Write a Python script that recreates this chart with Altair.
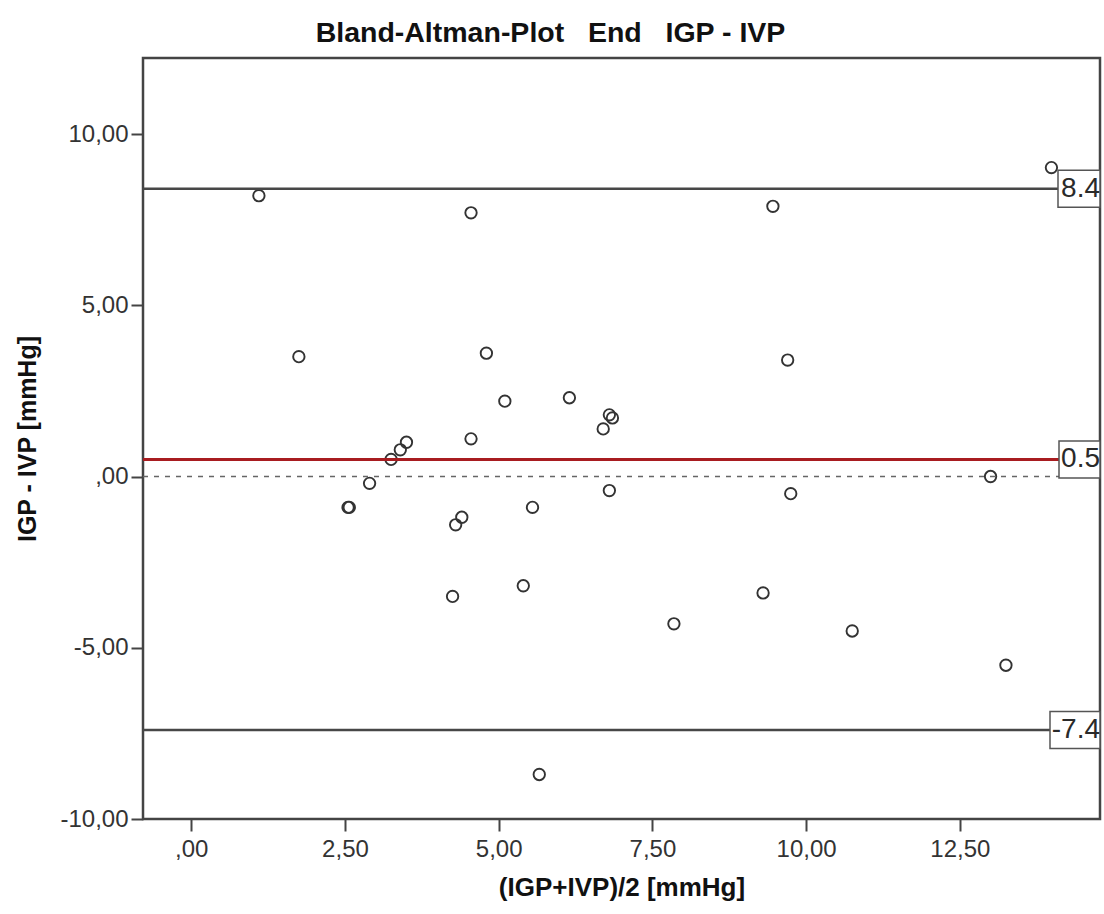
import altair as alt
import pandas as pd

# ---- data ----
mean_x = [1.10, 4.55, 9.46, 13.99, 1.75, 4.80, 5.10, 4.55, 3.25, 3.40, 3.50, 2.90,
          2.55, 2.57, 4.30, 4.40, 5.55, 4.25, 5.40, 6.15, 6.80, 6.85, 6.70, 9.70,
          6.80, 9.75, 9.30, 7.85, 10.75, 5.66, 13.00, 13.25]
diff_y = [8.20, 7.70, 7.89, 9.02, 3.50, 3.60, 2.20, 1.10, 0.50, 0.78, 1.00, -0.20,
          -0.90, -0.90, -1.41, -1.19, -0.90, -3.50, -3.19, 2.30, 1.80, 1.71, 1.39, 3.40,
          -0.41, -0.50, -3.40, -4.30, -4.51, -8.70, 0.00, -5.51]

limit_values = [8.4, -7.4]
limit_labels = ["8.4", "-7.4"]
mean_value = [0.5]
mean_label = ["0.5"]

x_ticks = [0, 2.5, 5, 7.5, 10, 12.5]
y_ticks = [-10, -5, 0, 5, 10]

XMIN, XMAX = -0.785, 14.78
YMIN, YMAX = -10.0, 12.22

FONT = "Liberation Sans"
XT = "(IGP+IVP)/2 [mmHg]"
YT = "IGP - IVP [mmHg]"

pts = pd.DataFrame({"mx": mean_x, "dy": diff_y})
lim = pd.DataFrame({"value": limit_values, "label": limit_labels})
mn = pd.DataFrame({"value": mean_value, "label": mean_label})

label_expr = ("datum.value == 0 ? ',00' : (datum.value < 0 ? '-' : '') + "
              "replace(format(abs(datum.value), '.2f'), '.', ',')")

xscale = alt.Scale(domain=[XMIN, XMAX], nice=False, zero=False)
yscale = alt.Scale(domain=[YMIN, YMAX], nice=False, zero=False)

xaxis = alt.Axis(values=x_ticks, labelExpr=label_expr, grid=False, domain=False,
                 tickSize=12, tickWidth=2, tickColor="#444", labelPadding=6,
                 labelFontSize=24, labelFont=FONT, labelColor="#333",
                 titleFont=FONT, titleFontSize=26, titleFontWeight="bold",
                 titleColor="#111", titlePadding=13)
yaxis = alt.Axis(values=y_ticks, labelExpr=label_expr, grid=False, domain=False,
                 tickSize=12, tickWidth=2, tickColor="#444", labelPadding=3,
                 labelFontSize=24, labelFont=FONT, labelColor="#333",
                 titleFont=FONT, titleFontSize=25, titleFontWeight="bold",
                 titleColor="#111", titlePadding=19)

points = alt.Chart(pts).mark_point(shape="circle", filled=False, size=130,
                                   stroke="#333", strokeWidth=1.9, opacity=1).encode(
    x=alt.X("mx:Q", title=XT, scale=xscale, axis=xaxis),
    y=alt.Y("dy:Q", title=YT, scale=yscale, axis=yaxis),
)

zero_line = alt.Chart(mn).mark_rule(color="#666", strokeWidth=1.5, strokeDash=[5, 6]).encode(
    x=alt.datum(XMIN), x2=alt.datum(XMAX),
    y=alt.datum(0),
)

gray_lines = alt.Chart(lim).mark_rule(color="#474747", strokeWidth=2.5).encode(
    x=alt.datum(XMIN), x2=alt.datum(XMAX),
    y=alt.Y("value:Q", title=YT, scale=yscale, axis=yaxis),
)
red_line = alt.Chart(mn).mark_rule(color="#a81c20", strokeWidth=3).encode(
    x=alt.datum(XMIN), x2=alt.datum(XMAX),
    y=alt.Y("value:Q", title=YT, scale=yscale, axis=yaxis),
)

box_widths = {"8.4": 42, "0.5": 41, "-7.4": 50}
boxes = []
for df in (lim, mn):
    for lab in df["label"]:
        sub = df[df["label"] == lab]
        boxes.append(
            alt.Chart(sub).mark_rect(fill="white", stroke="#555", strokeWidth=1.5,
                                     xOffset=-box_widths[lab], yOffset=-18.5, y2Offset=18.5).encode(
                x=alt.datum(XMAX), x2=alt.datum(XMAX),
                y=alt.Y("value:Q", title=YT, scale=yscale, axis=yaxis),
                y2=alt.Y2("value:Q"),
            )
        )

labels_df = pd.concat([lim, mn], ignore_index=True)
texts = alt.Chart(labels_df).mark_text(align="right", baseline="middle", dx=0,
                                       fontSize=28, font=FONT, color="#2a2a2a").encode(
    x=alt.datum(XMAX),
    y=alt.Y("value:Q", title=YT, scale=yscale, axis=yaxis),
    text="label:N",
)

chart = alt.layer(points, zero_line, gray_lines, red_line, *boxes, texts).properties(
    width=957, height=761,
    padding={"left": 143, "top": 58, "right": 4, "bottom": 95},
    autosize=alt.AutoSizeParams(type="none"),
    title=alt.TitleParams(
        text="Bland-Altman-Plot\u00a0\u00a0\u00a0End\u00a0\u00a0\u00a0IGP - IVP",
        font=FONT, fontSize=28.5, fontWeight="bold", color="#111",
        anchor="middle", dx=-71, offset=-12, baseline="alphabetic",
    ),
).configure_view(stroke="#444", strokeWidth=2.5)

chart.save("out.html", embed_options={"renderer": "svg", "actions": False})
